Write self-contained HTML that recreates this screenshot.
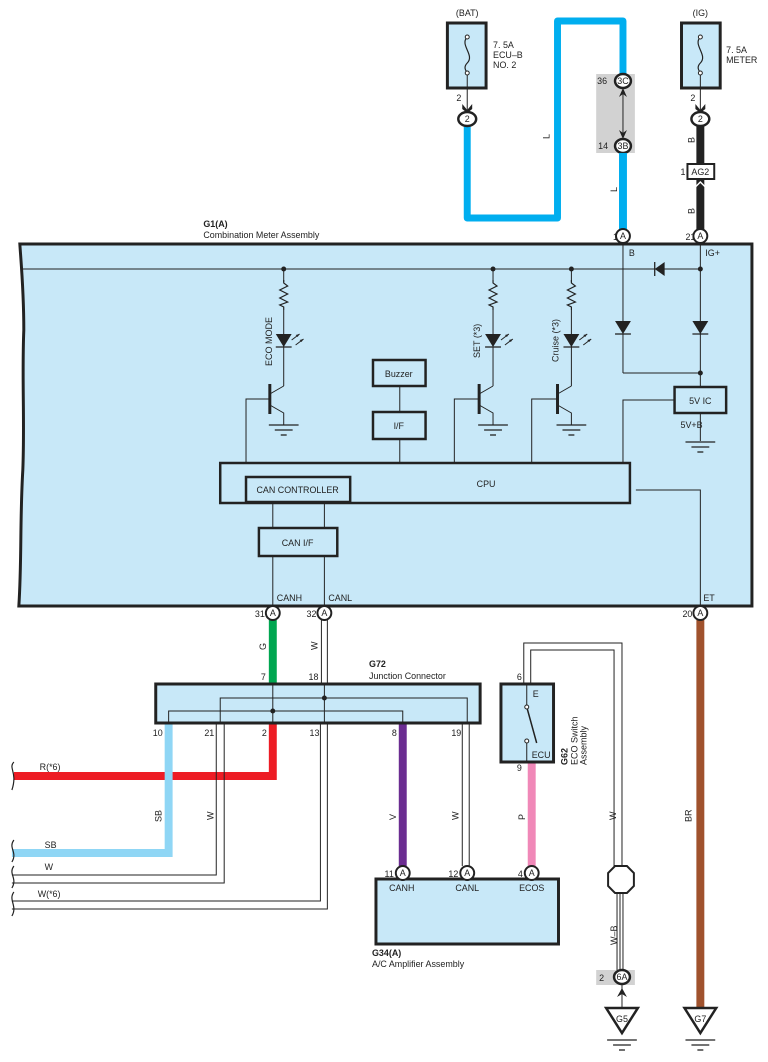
<!DOCTYPE html>
<html><head><meta charset="utf-8"><style>
html,body{margin:0;padding:0;background:#fff}
svg{display:block}
text{font-family:"Liberation Sans",sans-serif;font-size:9px;fill:#222}
</style></head><body>
<svg width="768" height="1062" viewBox="0 0 768 1062" xmlns="http://www.w3.org/2000/svg">
<defs>
<g id="gnd"><line x1="-15" y1="0" x2="15" y2="0" stroke="#222" stroke-width="1.3"/><line x1="-9" y1="5" x2="9" y2="5" stroke="#222" stroke-width="1.3"/><line x1="-3" y1="10" x2="3" y2="10" stroke="#222" stroke-width="1.3"/></g>
<g id="res"><polyline points="0,0 0,3 4,6 -4,10 4,14 -4,18 4,22 -4,25 0,27 0,30" fill="none" stroke="#222" stroke-width="1.2"/></g>
<g id="led"><polygon points="-8,0 8,0 0,13" fill="#222"/><line x1="-8" y1="13" x2="8" y2="13" stroke="#222" stroke-width="1.3"/><line x1="8" y1="6" x2="16" y2="0" stroke="#222" stroke-width="1"/><polygon points="16,0 12,1 14,3" fill="#222"/><line x1="12" y1="11" x2="20" y2="5" stroke="#222" stroke-width="1"/><polygon points="20,5 16,6 18,8" fill="#222"/></g>
<g id="dio"><polygon points="-8,0 8,0 0,13" fill="#222"/><line x1="-8" y1="13" x2="8" y2="13" stroke="#222" stroke-width="1.3"/></g>
</defs>
<g transform="scale(0.992,1)">

<!-- top fuses -->
<text x="471" y="16" text-anchor="middle">(BAT)</text>
<rect x="451" y="23" width="39" height="65" fill="#c8e8f8" stroke="#222" stroke-width="3"/>
<path d="M471 37 C463 45,479 55,471 63 C466 68,471 72,471 73" fill="none" stroke="#222" stroke-width="1.2"/>
<circle cx="471" cy="37" r="2" fill="#fff" stroke="#222"/><circle cx="471" cy="73" r="2" fill="#fff" stroke="#222"/>
<line x1="471" y1="75" x2="471" y2="112" stroke="#222" stroke-width="1"/>
<path d="M466 104 L471 110 L476 104 L476 109 L471 113 L466 109Z" fill="#222"/>
<text x="497" y="48">7. 5A</text><text x="497" y="58">ECU–B</text><text x="497" y="68">NO. 2</text>
<text x="460" y="101">2</text>

<text x="706" y="16" text-anchor="middle">(IG)</text>
<rect x="687" y="23" width="39" height="65" fill="#c8e8f8" stroke="#222" stroke-width="3"/>
<path d="M706 37 C698 45,714 55,706 63 C701 68,706 72,706 73" fill="none" stroke="#222" stroke-width="1.2"/>
<circle cx="706" cy="37" r="2" fill="#fff" stroke="#222"/><circle cx="706" cy="73" r="2" fill="#fff" stroke="#222"/>
<line x1="706" y1="75" x2="706" y2="112" stroke="#222" stroke-width="1"/>
<path d="M701 104 L706 110 L711 104 L711 109 L706 113 L701 109Z" fill="#222"/>
<text x="732" y="53">7. 5A</text><text x="732" y="63">METER</text>
<text x="696" y="101">2</text>

<!-- blue wire -->
<polyline points="471,126 471,218 562,218 562,21 628,21 628,233" fill="none" stroke="#00aeef" stroke-width="7" stroke-linejoin="round"/>
<rect x="601" y="74" width="39" height="79" fill="#d2d2d2"/>
<line x1="628" y1="88" x2="628" y2="138" stroke="#222" stroke-width="1"/>
<path d="M624 97 L628 88 L632 97 L628 94Z" fill="#222"/>
<path d="M624 130 L628 139 L632 130 L628 133Z" fill="#222"/>
<ellipse cx="628" cy="81" rx="8" ry="7" fill="#fff" stroke="#222" stroke-width="2.5"/><text x="628" y="84" text-anchor="middle" font-size="8">3C</text>
<ellipse cx="628" cy="146" rx="8" ry="7" fill="#fff" stroke="#222" stroke-width="2.5"/><text x="628" y="149" text-anchor="middle" font-size="8">3B</text>
<rect x="624" y="153" width="8" height="80" fill="#00aeef"/>
<text x="602" y="84">36</text><text x="603" y="149">14</text>
<text transform="translate(554,139) rotate(-90)">L</text>
<text transform="translate(622,192) rotate(-90)">L</text>
<ellipse cx="471" cy="119" rx="9" ry="7" fill="#fff" stroke="#222" stroke-width="2.5"/><text x="471" y="122" text-anchor="middle">2</text>

<!-- black IG wire -->
<rect x="702" y="126" width="8" height="108" fill="#222"/>
<rect x="693" y="164" width="27" height="15" fill="#fff" stroke="#222" stroke-width="2"/>
<text x="706" y="175" text-anchor="middle">AG2</text><text x="686" y="175">1</text>
<path d="M699 189 L706 182 L713 189" fill="none" stroke="#fff" stroke-width="1.5"/>
<ellipse cx="706" cy="119" rx="9" ry="7" fill="#fff" stroke="#222" stroke-width="2.5"/><text x="706" y="122" text-anchor="middle">2</text>
<text transform="translate(700,143) rotate(-90)" font-size="8">B</text>
<text transform="translate(700,214) rotate(-90)" font-size="8">B</text>

<!-- main box -->
<text x="205" y="227" font-weight="bold">G1(A)</text>
<text x="205" y="238">Combination Meter Assembly</text>
<path d="M20 244 L758 244 L758 606 L19 606 C22 560,20 520,23 470 C25 420,22 380,24 330 C24 290,21 260,20 244Z" fill="#c8e8f8" stroke="#222" stroke-width="3"/>
<text x="623" y="240" text-anchor="end">1</text>
<ellipse cx="628" cy="236" rx="7" ry="7" fill="#fff" stroke="#222" stroke-width="2"/><text x="628" y="239" text-anchor="middle" font-size="8">A</text>
<text x="701" y="240" text-anchor="end">21</text>
<ellipse cx="706" cy="236" rx="7" ry="7" fill="#fff" stroke="#222" stroke-width="2"/><text x="706" y="239" text-anchor="middle" font-size="8">A</text>
<text x="634" y="256">B</text><text x="711" y="256">IG+</text>

<g stroke="#222" stroke-width="1" fill="none">
<line x1="23" y1="269" x2="706" y2="269"/>
<line x1="628" y1="244" x2="628" y2="373"/>
<line x1="706" y1="244" x2="706" y2="386"/>
<line x1="628" y1="373" x2="706" y2="373"/>
<line x1="286" y1="269" x2="286" y2="282"/><line x1="286" y1="310" x2="286" y2="386"/>
<line x1="497" y1="269" x2="497" y2="282"/><line x1="497" y1="310" x2="497" y2="386"/>
<line x1="576" y1="269" x2="576" y2="282"/><line x1="576" y1="310" x2="576" y2="386"/>
<polyline points="272,394 286,386"/><polyline points="272,405 286,413 286,425"/>
<polyline points="272,399 248,399 248,463"/>
<polyline points="483,394 497,386"/><polyline points="483,405 497,413 497,425"/>
<polyline points="483,399 458,399 458,463"/>
<polyline points="562,394 576,386"/><polyline points="562,405 576,413 576,425"/>
<polyline points="562,399 536,399 536,463"/>
<line x1="403" y1="387" x2="403" y2="412"/><line x1="403" y1="439" x2="403" y2="463"/>
<polyline points="680,400 628,400 628,463"/>
<line x1="706" y1="413" x2="706" y2="441"/>
<polyline points="641,490 706,490 706,606"/>
<line x1="275" y1="502" x2="275" y2="528"/><line x1="327" y1="502" x2="327" y2="528"/>
<line x1="275" y1="556" x2="275" y2="606"/><line x1="327" y1="556" x2="327" y2="606"/>
</g>
<g fill="#222"><circle cx="286" cy="269" r="2.5"/><circle cx="497" cy="269" r="2.5"/><circle cx="576" cy="269" r="2.5"/><circle cx="706" cy="269" r="2.5"/><circle cx="706" cy="373" r="2.5"/></g>
<polygon points="660,269 670,262 670,276" fill="#222"/><line x1="660" y1="262" x2="660" y2="276" stroke="#222" stroke-width="1.3"/>
<use href="#res" x="286" y="280"/><use href="#res" x="497" y="280"/><use href="#res" x="576" y="280"/>
<use href="#led" x="286" y="334"/><use href="#led" x="497" y="334"/><use href="#led" x="576" y="334"/>
<use href="#dio" x="628" y="321"/><use href="#dio" x="706" y="321"/>
<g stroke="#222" stroke-width="3"><line x1="272" y1="384" x2="272" y2="414"/><line x1="483" y1="384" x2="483" y2="414"/><line x1="562" y1="384" x2="562" y2="414"/></g>
<use href="#gnd" x="286" y="425"/><use href="#gnd" x="497" y="425"/><use href="#gnd" x="576" y="425"/><use href="#gnd" x="706" y="442"/>
<text transform="translate(274,366) rotate(-90)">ECO MODE</text>
<text transform="translate(484,358) rotate(-90)">SET (*3)</text>
<text transform="translate(563,362) rotate(-90)">Cruise (*3)</text>
<rect x="376" y="360" width="53" height="26" fill="none" stroke="#222" stroke-width="2.5"/><text x="402" y="377" text-anchor="middle">Buzzer</text>
<rect x="376" y="412" width="53" height="27" fill="none" stroke="#222" stroke-width="2.5"/><text x="402" y="429" text-anchor="middle">I/F</text>
<rect x="680" y="387" width="52" height="26" fill="none" stroke="#222" stroke-width="2.5"/><text x="706" y="404" text-anchor="middle">5V IC</text>
<text x="686" y="428">5V+B</text>
<rect x="222" y="463" width="413" height="40" fill="none" stroke="#222" stroke-width="2.5"/><text x="490" y="487" text-anchor="middle">CPU</text>
<rect x="248" y="477" width="105" height="25" fill="none" stroke="#222" stroke-width="2.5"/><text x="300" y="493" text-anchor="middle">CAN CONTROLLER</text>
<rect x="261" y="528" width="79" height="28" fill="none" stroke="#222" stroke-width="2.5"/><text x="300" y="546" text-anchor="middle">CAN I/F</text>
<text x="279" y="601">CANH</text><text x="331" y="601">CANL</text><text x="709" y="601">ET</text>

<!-- lower wires -->
<rect x="271" y="620" width="8" height="64" fill="#00a650"/>
<line x1="324" y1="620" x2="324" y2="684" stroke="#222"/><line x1="330" y1="620" x2="330" y2="684" stroke="#222"/>
<rect x="702" y="620" width="8" height="390" fill="#a0522d"/>
<text x="267" y="617" text-anchor="end">31</text><text x="319" y="617" text-anchor="end">32</text><text x="698" y="617" text-anchor="end">20</text>
<g stroke="#222" stroke-width="2" fill="#fff"><ellipse cx="275" cy="613" rx="7" ry="7"/><ellipse cx="327" cy="613" rx="7" ry="7"/><ellipse cx="706" cy="613" rx="7" ry="7"/></g>
<text x="275" y="616" text-anchor="middle" font-size="8">A</text><text x="327" y="616" text-anchor="middle" font-size="8">A</text><text x="706" y="616" text-anchor="middle" font-size="8">A</text>
<text transform="translate(268,650) rotate(-90)" font-size="8">G</text>
<text transform="translate(320,650) rotate(-90)" font-size="8">W</text>
<text x="372" y="667" font-weight="bold">G72</text><text x="372" y="679">Junction Connector</text>
<text x="263" y="680">7</text><text x="311" y="680">18</text>

<polyline points="275,724 275,776 14,776" fill="none" stroke="#ed1c24" stroke-width="8"/>
<polyline points="170,724 170,853 12,853" fill="none" stroke="#8fd6f5" stroke-width="8"/>
<polyline points="218,724 218,875 12,875" fill="none" stroke="#222" stroke-width="1"/>
<polyline points="226,724 226,883 12,883" fill="none" stroke="#222" stroke-width="1"/>
<polyline points="323,724 323,901 12,901" fill="none" stroke="#222" stroke-width="1"/>
<polyline points="330,724 330,909 12,909" fill="none" stroke="#222" stroke-width="1"/>
<rect x="402" y="724" width="8" height="142" fill="#6b2c91"/>
<line x1="466" y1="724" x2="466" y2="866" stroke="#222"/><line x1="473" y1="724" x2="473" y2="866" stroke="#222"/>
<rect x="532" y="762" width="8" height="104" fill="#f088b8"/>
<g fill="none" stroke="#222" stroke-width="1.2">
<path d="M14 762 C8 768,18 772,12 790"/><path d="M14 840 C8 848,18 852,12 862"/><path d="M14 866 C8 874,18 878,12 888"/><path d="M14 892 C8 900,18 906,12 916"/>
</g>
<text x="40" y="770">R(*6)</text><text x="45" y="848">SB</text><text x="45" y="870">W</text><text x="38" y="897">W(*6)</text>
<text transform="translate(163,822) rotate(-90)" font-size="8">SB</text>
<text transform="translate(215,820) rotate(-90)" font-size="8">W</text>
<text transform="translate(399,820) rotate(-90)" font-size="8">V</text>
<text transform="translate(462,820) rotate(-90)" font-size="8">W</text>
<text transform="translate(529,820) rotate(-90)" font-size="8">P</text>
<text transform="translate(621,820) rotate(-90)" font-size="8">W</text>
<text transform="translate(697,822) rotate(-90)" font-size="8">BR</text>

<rect x="157" y="684" width="327" height="39" fill="#c8e8f8" stroke="#222" stroke-width="3"/>
<g stroke="#222" stroke-width="1" fill="none">
<line x1="275" y1="684" x2="275" y2="724"/><line x1="327" y1="684" x2="327" y2="724"/>
<polyline points="222,723 222,698 471,698 471,723"/>
<polyline points="170,723 170,711 406,711 406,723"/>
</g>
<circle cx="327" cy="698" r="2.5" fill="#222"/><circle cx="275" cy="711" r="2.5" fill="#222"/>
<text x="154" y="736">10</text><text x="206" y="736">21</text><text x="264" y="736">2</text><text x="312" y="736">13</text><text x="395" y="736">8</text><text x="455" y="736">19</text>

<polyline points="528,684 528,643 627,643 627,867" fill="none" stroke="#222" stroke-width="1"/>
<polyline points="535,684 535,650 619,650 619,867" fill="none" stroke="#222" stroke-width="1"/>
<rect x="505" y="684" width="53" height="78" fill="#c8e8f8" stroke="#222" stroke-width="3"/>
<line x1="531" y1="684" x2="531" y2="706" stroke="#222"/><line x1="531" y1="743" x2="531" y2="762" stroke="#222"/>
<line x1="531" y1="707" x2="541" y2="743" stroke="#222" stroke-width="1.5"/>
<circle cx="531" cy="707" r="2" fill="#fff" stroke="#222"/><circle cx="531" cy="741" r="2" fill="#fff" stroke="#222"/>
<text x="537" y="697">E</text><text x="536" y="758">ECU</text>
<text x="521" y="680">6</text><text x="521" y="771">9</text>
<text transform="translate(572,765) rotate(-90)" font-weight="bold">G62</text>
<text transform="translate(582,765) rotate(-90)">ECO Switch</text>
<text transform="translate(591,765) rotate(-90)">Assembly</text>

<rect x="379" y="879" width="184" height="65" fill="#c8e8f8" stroke="#222" stroke-width="3"/>
<g stroke="#222" stroke-width="2" fill="#fff"><ellipse cx="406" cy="873" rx="7" ry="7"/><ellipse cx="471" cy="873" rx="7" ry="7"/><ellipse cx="536" cy="873" rx="7" ry="7"/></g>
<text x="406" y="876" text-anchor="middle" font-size="8">A</text><text x="471" y="876" text-anchor="middle" font-size="8">A</text><text x="536" y="876" text-anchor="middle" font-size="8">A</text>
<text x="397" y="877" text-anchor="end">11</text><text x="462" y="877" text-anchor="end">12</text><text x="527" y="877" text-anchor="end">4</text>
<text x="405" y="891" text-anchor="middle">CANH</text><text x="471" y="891" text-anchor="middle">CANL</text><text x="536" y="891" text-anchor="middle">ECOS</text>
<text x="375" y="956" font-weight="bold">G34(A)</text><text x="375" y="967">A/C Amplifier Assembly</text>

<polygon points="620,866 632,866 639,873 639,886 632,893 620,893 613,886 613,873" fill="#fff" stroke="#222" stroke-width="2"/>
<g stroke="#222" stroke-width="1"><line x1="622" y1="893" x2="622" y2="972"/><line x1="625" y1="893" x2="625" y2="972"/><line x1="628" y1="893" x2="628" y2="972"/></g>
<text transform="translate(622,945) rotate(-90)" font-size="8">W–B</text>
<rect x="601" y="970" width="39" height="15" fill="#d2d2d2"/>
<text x="604" y="981">2</text>
<ellipse cx="627" cy="977" rx="8" ry="7" fill="#fff" stroke="#222" stroke-width="2.5"/><text x="627" y="980" text-anchor="middle" font-size="8">6A</text>
<line x1="627" y1="985" x2="627" y2="1008" stroke="#222"/>
<path d="M622 997 L627 988 L632 997 L627 994Z" fill="#222"/>
<polygon points="611,1008 643,1008 627,1033" fill="#fff" stroke="#222" stroke-width="2.5"/><text x="627" y="1022" text-anchor="middle">G5</text>
<use href="#gnd" x="627" y="1040"/>
<polygon points="690,1008 722,1008 706,1033" fill="#fff" stroke="#222" stroke-width="2.5"/><text x="706" y="1022" text-anchor="middle">G7</text>
<use href="#gnd" x="706" y="1040"/>
</g>
</svg>
</body></html>
